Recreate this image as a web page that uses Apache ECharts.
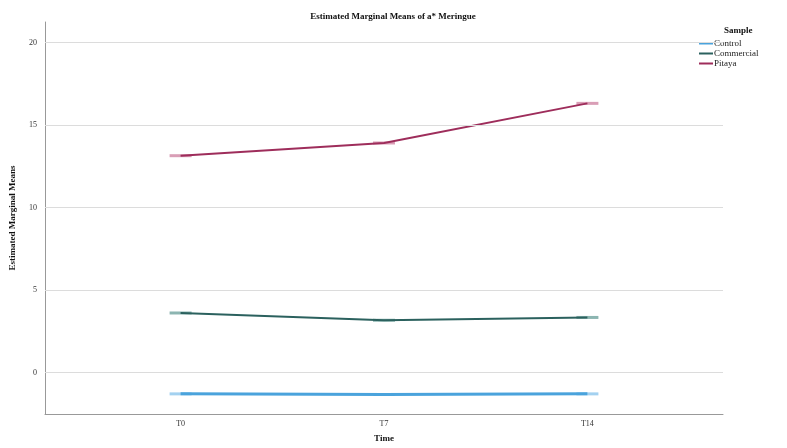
<!DOCTYPE html>
<html>
<head>
<meta charset="utf-8">
<script src="https://cdn.jsdelivr.net/npm/echarts@6/dist/echarts.min.js"></script>
<style>
  html, body { margin: 0; padding: 0; background: #fff; }
  #chart { width: 787px; height: 448px; }
</style>
</head>
<body>
<div id="chart"></div>
<script>
// Time points on the x axis
const times = ['T0', 'T7', 'T14'];
// Estimated marginal means of a* per sample
const control = [-1.28, -1.32, -1.28];
const commercial = [3.62, 3.18, 3.35];
const pitaya = [13.15, 13.92, 16.32];
// Y axis tick labels
const yTicks = [0, 5, 10, 15, 20];

const serif = '"Liberation Serif", "DejaVu Serif", serif';

const samples = [
  { name: 'Control', values: control, line: '#4aa3dc', cap: '#8cc6ec', width: 3 },
  { name: 'Commercial', values: commercial, line: '#2b615e', cap: '#6fa39d', width: 2 },
  { name: 'Pitaya', values: pitaya, line: '#9e2d5b', cap: '#cf86a4', width: 2 }
];

const toPoints = vals => vals.map((v, i) => [i, v]);

const series = [];
samples.forEach(s => {
  // light horizontal caps at each mean
  series.push({
    name: s.name + ' caps',
    type: 'scatter',
    data: toPoints(s.values),
    symbol: 'rect',
    symbolSize: [22, 3],
    itemStyle: { color: s.cap },
    silent: true,
    z: 2
  });
  series.push({
    name: s.name,
    type: 'line',
    data: toPoints(s.values),
    symbol: 'none',
    lineStyle: { color: s.line, width: s.width },
    itemStyle: { color: s.line },
    z: 3
  });
});

// horizontal reference lines at each labelled y value
series.push({
  name: 'grid',
  type: 'line',
  data: [],
  silent: true,
  markLine: {
    silent: true,
    symbol: 'none',
    label: { show: false },
    lineStyle: { color: '#dcdcdc', width: 1, type: 'solid' },
    data: yTicks.map(v => ({ yAxis: v }))
  },
  z: 1
});

const chart = echarts.init(document.getElementById('chart'));
chart.setOption({
  animation: false,
  backgroundColor: '#fff',
  title: {
    text: 'Estimated Marginal Means of a* Meringue',
    left: 388,
    textAlign: 'center',
    top: 7,
    textStyle: { fontFamily: serif, fontSize: 9, fontWeight: 'bold', color: '#111' }
  },
  graphic: [{
    type: 'text',
    left: 724,
    top: 26,
    style: { text: 'Sample', fontFamily: serif, fontSize: 9, fontWeight: 'bold', fill: '#111' }
  }],
  legend: {
    data: samples.map(s => ({ name: s.name, icon: 'rect', itemStyle: { color: s.line } })),
    orient: 'vertical',
    left: 694,
    top: 34,
    itemWidth: 14,
    itemHeight: 2,
    itemGap: 1,
    textStyle: { fontFamily: serif, fontSize: 9, color: '#222', padding: [0, 0, 0, -4] }
  },
  grid: { left: 43, right: 64, top: 22, bottom: 30, containLabel: false },
  xAxis: {
    type: 'value',
    min: -2 / 3,
    max: 8 / 3,
    name: 'Time',
    nameLocation: 'middle',
    nameGap: 20,
    nameTextStyle: { fontFamily: serif, fontSize: 9, fontWeight: 'bold', color: '#111' },
    axisLine: { show: true, onZero: false, lineStyle: { color: '#999', width: 1 } },
    axisTick: { show: false },
    splitLine: { show: false },
    axisLabel: {
      customValues: [0, 1, 2],
      formatter: v => times[Math.round(v)],
      fontFamily: serif,
      fontSize: 8,
      color: '#333',
      margin: 6
    }
  },
  yAxis: {
    type: 'value',
    min: -2.5,
    max: 21.25,
    name: 'Estimated Marginal Means',
    nameLocation: 'middle',
    nameGap: 28,
    nameRotate: 90,
    nameTextStyle: { fontFamily: serif, fontSize: 9, fontWeight: 'bold', color: '#111' },
    axisLine: { show: true, onZero: false, lineStyle: { color: '#999', width: 1 } },
    axisTick: { show: false },
    splitLine: { show: false },
    axisLabel: {
      customValues: yTicks,
      fontFamily: serif,
      fontSize: 8,
      color: '#333',
      margin: 8
    }
  },
  series: series
});
</script>
</body>
</html>
